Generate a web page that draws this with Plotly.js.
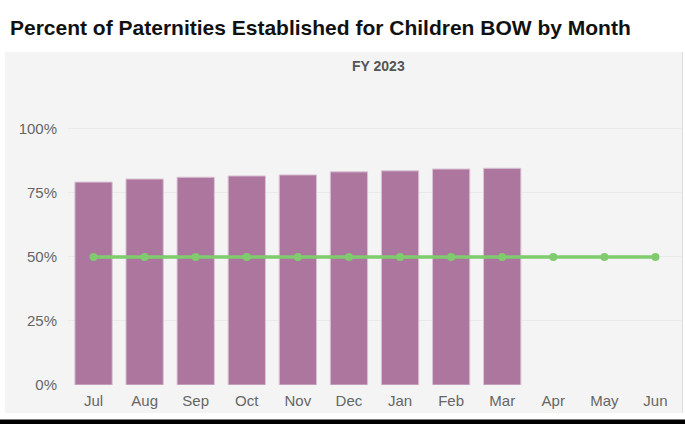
<!DOCTYPE html>
<html>
<head>
<meta charset="utf-8">
<script src="https://cdn.plot.ly/plotly-3.0.1.min.js"></script>
<style>html,body{margin:0;padding:0;background:#fff;}#chart{width:685px;height:424px;}</style>
</head>
<body>
<div id="chart"></div>
<script>
const months = ["Jul","Aug","Sep","Oct","Nov","Dec","Jan","Feb","Mar","Apr","May","Jun"];
const barMonths = ["Jul","Aug","Sep","Oct","Nov","Dec","Jan","Feb","Mar"];
const percentEstablished = [79.2, 80.4, 81.1, 81.6, 82.0, 83.2, 83.6, 84.3, 84.6];
const goal = [50, 50, 50, 50, 50, 50, 50, 50, 50, 50, 50, 50];
const yTicks = [0, 25, 50, 75, 100];
const yTickLabels = ["0%", "25%", "50%", "75%", "100%"];

const W = 685, H = 424;
const mL = 68, mR = 4, mT = 116, mB = 39;
const pw = W - mL - mR, ph = H - mT - mB;
const px = x => (x - mL) / pw;
const py = y => (H - mB - y) / ph;

const data = [
  {
    type: 'bar',
    x: barMonths,
    y: percentEstablished,
    marker: {color: '#ad769f', line: {color: '#d9c3d3', width: 1}},
    hoverinfo: 'skip'
  },
  {
    type: 'scatter',
    mode: 'lines+markers',
    x: months,
    y: goal,
    line: {color: '#7fcb6e', width: 3.5},
    marker: {color: '#7fcb6e', size: 8},
    hoverinfo: 'skip'
  }
];

const layout = {
  width: W, height: H,
  margin: {l: mL, r: mR, t: mT, b: mB, pad: 0, autoexpand: false},
  paper_bgcolor: '#ffffff',
  plot_bgcolor: 'rgba(0,0,0,0)',
  showlegend: false,
  bargap: 0.27,
  font: {family: 'Liberation Sans, Arial, sans-serif', color: '#666'},
  title: {
    text: '<b>Percent of Paternities Established for Children BOW by Month</b>',
    font: {family: 'Liberation Sans, Arial, sans-serif', size: 21, color: '#111'},
    xref: 'container', x: 10 / W, xanchor: 'left',
    yref: 'container', y: 1 - 28 / H, yanchor: 'middle',
    automargin: false
  },
  xaxis: {
    type: 'category',
    categoryorder: 'array',
    categoryarray: months,
    range: [-0.5, months.length - 0.5],
    automargin: false,
    showgrid: false, zeroline: false, showline: false,
    ticks: '',
    ticklabelstandoff: 5,
    tickfont: {size: 15, color: '#666'},
    fixedrange: true
  },
  yaxis: {
    range: [0, 105],
    tickvals: yTicks,
    ticktext: yTickLabels,
    automargin: false,
    showgrid: true, gridcolor: '#e9e9e9', gridwidth: 1,
    zeroline: false, showline: false,
    ticks: '',
    ticklabelstandoff: 10,
    tickfont: {size: 15, color: '#666'},
    fixedrange: true
  },
  shapes: [
    {type: 'rect', xref: 'paper', yref: 'paper', layer: 'below',
     x0: px(5), x1: px(682), y0: py(413), y1: py(52),
     fillcolor: '#f4f4f4', line: {width: 0}},
    {type: 'line', xref: 'paper', yref: 'paper', layer: 'below',
     x0: px(682.5), x1: px(682.5), y0: py(413), y1: py(52),
     line: {color: '#dcdcdc', width: 1}},
    {type: 'rect', xref: 'paper', yref: 'paper', layer: 'above',
     x0: px(0), x1: px(685), y0: py(424), y1: py(419.5),
     fillcolor: '#000000', line: {width: 0}}
  ],
  annotations: [
    {text: '<b>FY 2023</b>', xref: 'paper', yref: 'paper',
     x: px(378), y: py(66), xanchor: 'center', yanchor: 'middle',
     showarrow: false, font: {size: 14, color: '#555'}}
  ]
};

Plotly.newPlot('chart', data, layout, {displayModeBar: false, staticPlot: true});
</script>
</body>
</html>
